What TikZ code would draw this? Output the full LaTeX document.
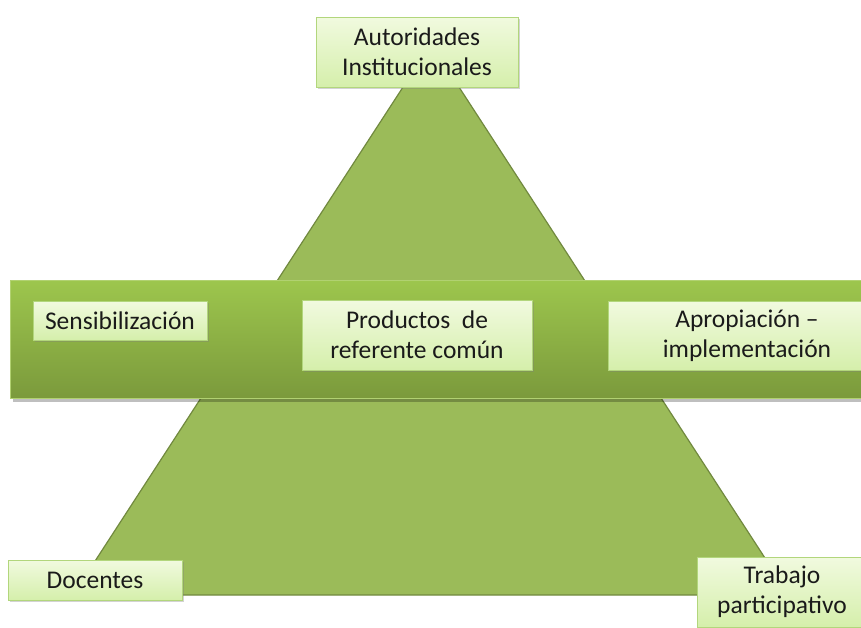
\documentclass[tikz,border=0pt]{standalone}
\usepackage{fontspec}
\setmainfont{Carlito}
\usetikzlibrary{shadows}
\definecolor{tri}{HTML}{9BBB59}
\definecolor{triedge}{HTML}{71893F}
\definecolor{bandtop}{HTML}{9DC64D}
\definecolor{bandbot}{HTML}{7B9A3C}
\definecolor{boxtop}{HTML}{F1FADF}
\definecolor{boxbot}{HTML}{D5EFAB}
\definecolor{boxedge}{HTML}{B2D67C}
\definecolor{txt}{HTML}{1A1A1A}
\tikzset{
  lbl/.style={draw=boxedge, line width=0.8pt, top color=boxtop, bottom color=boxbot,
    text=txt, font=\fontsize{25.5}{30}\selectfont, align=center, inner sep=0pt,
    drop shadow={opacity=0.35, shadow xshift=2pt, shadow yshift=-2pt}},
}
\begin{document}
\begin{tikzpicture}[x=1pt,y=-1pt]
\useasboundingbox (0,0) rectangle (861,627);
\clip (0,0) rectangle (861,627);
% triangle
\draw[fill=tri, draw=triedge, line width=1.2pt] (431,44) -- (789,595) -- (73,595) -- cycle;
% band
\fill[black, opacity=0.25] (13,283) rectangle (875,402);
\draw[draw=bandtop!80!white, line width=0.6pt, top color=bandtop, bottom color=bandbot] (10,280) rectangle (875,398);
% boxes
\node[lbl, minimum width=202pt, minimum height=70pt] (auth) at (417,52) {Autoridades\\Institucionales};
\node[lbl, minimum width=174pt, minimum height=39pt] (sens) at (120,320.5) {Sensibilización};
\node[lbl, minimum width=230pt, minimum height=70pt] (prod) at (417,335) {Productos\ \ de\\referente común};
\node[lbl, minimum width=278pt, minimum height=69pt] (apro) at (747,335.5) {Apropiación –\\implementación};
\node[lbl, minimum width=174pt, minimum height=40pt] (doc) at (95,580) {Docentes};
\node[lbl, minimum width=170pt, minimum height=70pt] (trab) at (782,592) {Trabajo\\participativo};
\end{tikzpicture}
\end{document}
